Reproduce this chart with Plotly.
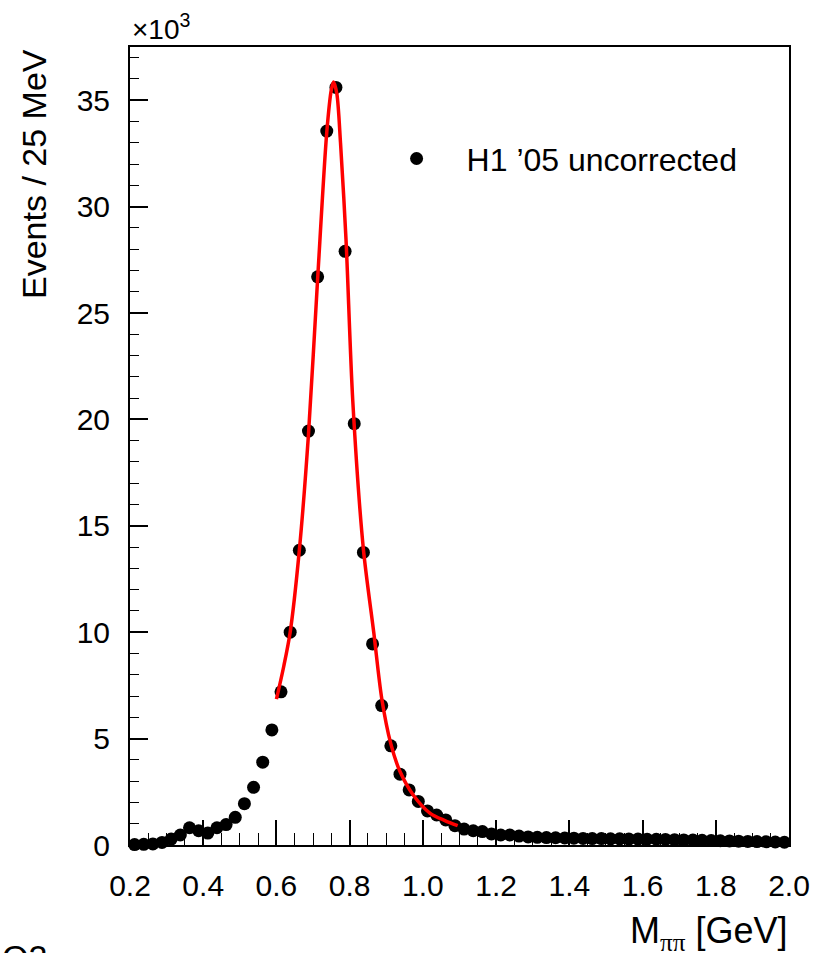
import plotly.graph_objects as go

# Bin centres of M_pipi [GeV] (25 MeV bins)
mass_gev = [0.2125, 0.2375, 0.2625, 0.2875, 0.3125, 0.3375, 0.3625, 0.3875, 0.4125, 0.4375,
            0.4625, 0.4875, 0.5125, 0.5375, 0.5625, 0.5875, 0.6125, 0.6375, 0.6625, 0.6875,
            0.7125, 0.7375, 0.7625, 0.7875, 0.8125, 0.8375, 0.8625, 0.8875, 0.9125, 0.9375,
            0.9625, 0.9875, 1.0125, 1.0375, 1.0625, 1.0875, 1.1125, 1.1375, 1.1625, 1.1875,
            1.2125, 1.2375, 1.2625, 1.2875, 1.3125, 1.3375, 1.3625, 1.3875, 1.4125, 1.4375,
            1.4625, 1.4875, 1.5125, 1.5375, 1.5625, 1.5875, 1.6125, 1.6375, 1.6625, 1.6875,
            1.7125, 1.7375, 1.7625, 1.7875, 1.8125, 1.8375, 1.8625, 1.8875, 1.9125, 1.9375,
            1.9625, 1.9875]

# Events per bin in units of 10^3
events_k = [0.02, 0.03, 0.05, 0.12, 0.28, 0.47, 0.81, 0.67, 0.56, 0.81,
            0.96, 1.30, 1.94, 2.71, 3.89, 5.41, 7.20, 10.00, 13.85, 19.45,
            26.70, 33.55, 35.60, 27.90, 19.80, 13.75, 9.45, 6.55, 4.66, 3.33,
            2.59, 2.05, 1.60, 1.41, 1.18, 0.91, 0.75, 0.67, 0.63, 0.52,
            0.47, 0.47, 0.42, 0.38, 0.36, 0.35, 0.34, 0.33, 0.32, 0.31,
            0.30, 0.30, 0.29, 0.29, 0.28, 0.28, 0.27, 0.27, 0.26, 0.25,
            0.24, 0.23, 0.22, 0.21, 0.20, 0.19, 0.18, 0.17, 0.16, 0.15,
            0.14, 0.13]

# Fit curve
fit_mass = [0.600, 0.620, 0.6375, 0.6625, 0.6875, 0.7125, 0.7375, 0.750, 0.756, 0.765,
            0.775, 0.790, 0.8084, 0.8375, 0.866, 0.8875, 0.9125, 0.9375, 0.974, 1.020,
            1.060, 1.095]
fit_k = [6.85, 8.4, 10.0, 13.85, 19.3, 26.6, 33.5, 35.5, 35.85, 35.3,
         33.0, 28.45, 20.9, 13.9, 9.96, 6.9, 4.75, 3.45, 2.34, 1.49,
         1.15, 0.91]

x_tick_vals = [0.2, 0.4, 0.6, 0.8, 1.0, 1.2, 1.4, 1.6, 1.8, 2.0]
x_tick_text = ["0.2", "0.4", "0.6", "0.8", "1.0", "1.2", "1.4", "1.6", "1.8", "2.0"]
y_tick_vals = [0, 5, 10, 15, 20, 25, 30, 35]
y_tick_text = ["0", "5", "10", "15", "20", "25", "30", "35"]

FONT = "Liberation Sans, Arial, Helvetica, sans-serif"

fig = go.Figure()
fig.add_trace(go.Scatter(
    x=mass_gev, y=events_k, mode="markers",
    marker=dict(color="black", size=13, symbol="circle"),
    name="H1 \u201905 uncorrected", cliponaxis=False, showlegend=True,
))
fig.add_trace(go.Scatter(
    x=fit_mass, y=fit_k, mode="lines",
    line=dict(color="#ff0000", width=3.5, shape="spline", smoothing=0.8),
    showlegend=False, hoverinfo="skip",
))

axis_common = dict(
    showgrid=False, zeroline=False, showline=True, linecolor="black", linewidth=2,
    mirror=True, ticks="inside", tickcolor="black", tickwidth=1.5, automargin=False,
    tickfont=dict(family=FONT, size=30, color="black"),
)

fig.update_xaxes(
    range=[0.2, 2.0], tickmode="array", tickvals=x_tick_vals, ticktext=x_tick_text,
    ticklen=25, ticklabelstandoff=13,
    minor=dict(dtick=0.05, tick0=0.2, ticks="inside", ticklen=12, tickcolor="black", tickwidth=1.2),
    **axis_common,
)
fig.update_yaxes(
    range=[0, 37.5], tickmode="array", tickvals=y_tick_vals, ticktext=y_tick_text,
    ticklen=18, ticklabelstandoff=12,
    minor=dict(dtick=1, tick0=0, ticks="inside", ticklen=9, tickcolor="black", tickwidth=1.2),
    **axis_common,
)

fig.update_layout(
    width=815, height=953,
    margin=dict(l=130, r=26, t=47, b=108),
    paper_bgcolor="white", plot_bgcolor="white",
    font=dict(family=FONT, color="black"),
    legend=dict(
        x=0.359, y=0.860, xanchor="left", yanchor="middle",
        bgcolor="rgba(0,0,0,0)", borderwidth=0, itemwidth=90,
        font=dict(family=FONT, size=32, color="black"),
    ),
    annotations=[
        dict(text="Events / 25 MeV", textangle=-90, xref="paper", yref="paper",
             x=-0.1457, y=1.0, xanchor="center", yanchor="top", showarrow=False,
             font=dict(family=FONT, size=34, color="black")),
        dict(text="M<sub><span style=\"font-family:'Liberation Serif', 'Times New Roman', serif\">\u03c0\u03c0</span></sub> [GeV]",
             xref="paper", yref="paper", x=1.0, y=-0.110, xanchor="right", yanchor="middle",
             showarrow=False, font=dict(family=FONT, size=36, color="black")),
        dict(text="\u00d710<sup>3</sup>", xref="paper", yref="paper", x=0.0, y=1.0,
             xanchor="left", yanchor="bottom", showarrow=False,
             font=dict(family=FONT, size=28, color="black")),
        dict(text="Q2", xref="paper", yref="paper", x=-0.197, y=-0.114,
             xanchor="left", yanchor="top", showarrow=False,
             font=dict(family=FONT, size=34, color="black")),
    ],
)

fig.write_html("out.html")
